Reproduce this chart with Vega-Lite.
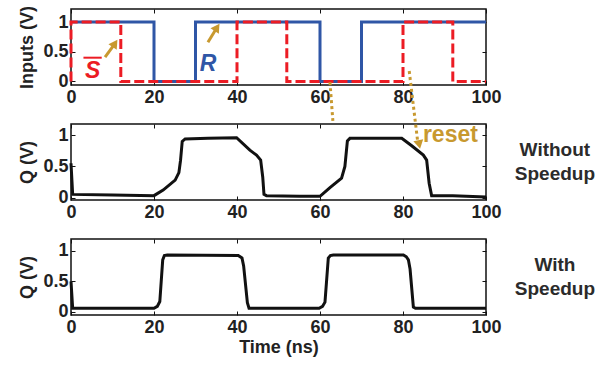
{
  "$schema": "https://vega.github.io/schema/vega-lite/v6.json",
  "padding": {"left": 18, "top": 4, "right": 5, "bottom": 5},
  "background": "white",
  "spacing": 39,
  "bounds": "flush",
  "config": {
    "font": "Liberation Sans",
    "view": {"stroke": "#111", "strokeWidth": 1.5},
    "axis": {
      "labelFont": "Liberation Sans", "labelFontSize": 18, "labelFontWeight": "bold", "labelColor": "#222",
      "titleFont": "Liberation Sans", "titleFontSize": 18, "titleFontWeight": "bold", "titleColor": "#222",
      "domain": false, "grid": false, "tickSize": -4, "tickColor": "#111", "tickWidth": 1,
      "labelPadding": 7, "labelFlush": false, "labelOverlap": false
    }
  },
  "datasets": {
    "inp": [
      {"s": "R", "t": 0, "v": 1}, {"s": "R", "t": 20, "v": 1}, {"s": "R", "t": 20, "v": 0}, {"s": "R", "t": 30, "v": 0},
      {"s": "R", "t": 30, "v": 1}, {"s": "R", "t": 60, "v": 1}, {"s": "R", "t": 60, "v": 0}, {"s": "R", "t": 70, "v": 0},
      {"s": "R", "t": 70, "v": 1}, {"s": "R", "t": 100, "v": 1},
      {"s": "S", "t": 0, "v": 0}, {"s": "S", "t": 0, "v": 1}, {"s": "S", "t": 12, "v": 1}, {"s": "S", "t": 12, "v": 0},
      {"s": "S", "t": 40, "v": 0}, {"s": "S", "t": 40, "v": 1}, {"s": "S", "t": 52, "v": 1}, {"s": "S", "t": 52, "v": 0},
      {"s": "S", "t": 80, "v": 0}, {"s": "S", "t": 80, "v": 1}, {"s": "S", "t": 92, "v": 1}, {"s": "S", "t": 92, "v": 0},
      {"s": "S", "t": 100, "v": 0}
    ],
    "q1": [
      {"t": 0, "v": 0.55}, {"t": 0.4, "v": 0.05}, {"t": 10, "v": 0.04}, {"t": 20, "v": 0.03},
      {"t": 22.2, "v": 0.12}, {"t": 25.1, "v": 0.28}, {"t": 26.0, "v": 0.4}, {"t": 26.4, "v": 0.6},
      {"t": 26.8, "v": 0.9}, {"t": 27.5, "v": 0.94}, {"t": 33, "v": 0.95}, {"t": 39.9, "v": 0.96},
      {"t": 43.1, "v": 0.76}, {"t": 44.7, "v": 0.68}, {"t": 45.7, "v": 0.6}, {"t": 46.2, "v": 0.33},
      {"t": 46.5, "v": 0.05}, {"t": 47.1, "v": 0.03}, {"t": 55, "v": 0.02}, {"t": 60, "v": 0.02},
      {"t": 62.4, "v": 0.16}, {"t": 65.2, "v": 0.31}, {"t": 66.0, "v": 0.5}, {"t": 66.6, "v": 0.91},
      {"t": 67.2, "v": 0.95}, {"t": 79.7, "v": 0.95}, {"t": 82.1, "v": 0.83}, {"t": 84.9, "v": 0.68},
      {"t": 85.7, "v": 0.6}, {"t": 86.3, "v": 0.23}, {"t": 86.9, "v": 0.03}, {"t": 92, "v": 0.03},
      {"t": 100, "v": 0.01}
    ],
    "q2": [
      {"t": 0, "v": 0.5}, {"t": 0.4, "v": 0.06}, {"t": 20, "v": 0.06}, {"t": 20.8, "v": 0.09},
      {"t": 21.4, "v": 0.17}, {"t": 22.1, "v": 0.85}, {"t": 22.5, "v": 0.92}, {"t": 23.2, "v": 0.93},
      {"t": 40.3, "v": 0.92}, {"t": 41.2, "v": 0.88}, {"t": 41.6, "v": 0.75}, {"t": 42.5, "v": 0.15},
      {"t": 42.9, "v": 0.06}, {"t": 59.8, "v": 0.06}, {"t": 60.6, "v": 0.09}, {"t": 61.2, "v": 0.16},
      {"t": 62.0, "v": 0.88}, {"t": 62.5, "v": 0.92}, {"t": 63.2, "v": 0.93}, {"t": 80.1, "v": 0.93},
      {"t": 80.8, "v": 0.9}, {"t": 81.3, "v": 0.85}, {"t": 81.7, "v": 0.7}, {"t": 82.5, "v": 0.08},
      {"t": 83.0, "v": 0.06}, {"t": 100, "v": 0.06}
    ],
    "arrows_top": [
      {"x": 8.2, "y": 0.41, "x2": 10.5, "y2": 0.63},
      {"x": 33.0, "y": 0.66, "x2": 35.1, "y2": 0.9}
    ],
    "heads_top": [
      {"x": 10.6, "y": 0.64},
      {"x": 35.2, "y": 0.91}
    ],
    "labels_top": [
      {"label": "S", "x": 5.2, "y": 0.17},
      {"label": "R", "x": 33.0, "y": 0.3}
    ],
    "overbar": [{"x": 3.0, "x2": 7.4, "y": 0.4}],
    "dots_mid": [
      {"x": 62.4, "y": 1.85, "x2": 63.1, "y2": 1.23},
      {"x": 81.5, "y": 2.03, "x2": 83.5, "y2": 0.92}
    ],
    "head_mid": [{"x": 83.9, "y": 0.85}],
    "reset": [{"label": "reset", "x": 84.8, "y": 0.89}],
    "side_mid": [{"label": "Without\nSpeedup", "x": 116.6, "y": 0.77}],
    "side_bot": [{"label": "With\nSpeedup", "x": 116.6, "y": 0.76}]
  },
  "vconcat": [
    {
      "width": 415, "height": 76,
      "resolve": {"axis": {"x": "independent", "y": "independent"}},
      "layer": [
        {
          "data": {"name": "inp"},
          "transform": [{"filter": "datum.s === 'R'"}],
          "mark": {"type": "line", "color": "#2F56A6", "strokeWidth": 3, "strokeJoin": "miter"},
          "encoding": {
            "x": {"field": "t", "type": "quantitative", "scale": {"domain": [0, 100], "nice": false},
                  "axis": {"values": [0, 20, 40, 60, 80, 100], "title": null, "format": "d"}},
            "y": {"field": "v", "type": "quantitative", "scale": {"domain": [-0.06, 1.22], "nice": false, "zero": false},
                  "axis": {"values": [0, 0.5, 1], "title": "Inputs (V)", "format": "~g", "titlePadding": 6}},
            "order": {"value": null}
          }
        },
        {
          "data": {"name": "inp"},
          "transform": [{"filter": "datum.s === 'S'"}],
          "mark": {"type": "line", "color": "#EC1C24", "strokeWidth": 3, "strokeDash": [10, 4], "strokeJoin": "miter"},
          "encoding": {
            "x": {"field": "t", "type": "quantitative", "axis": null},
            "y": {"field": "v", "type": "quantitative", "axis": null},
            "order": {"value": null}
          }
        },
        {
          "data": {"name": "inp"},
          "mark": {"type": "point", "opacity": 0},
          "encoding": {
            "x": {"field": "t", "type": "quantitative", "axis": {"orient": "top", "labels": false, "title": null, "values": [0, 20, 40, 60, 80, 100]}},
            "y": {"field": "v", "type": "quantitative", "axis": {"orient": "right", "labels": false, "title": null, "values": [0, 0.5, 1]}}
          }
        },
        {
          "data": {"name": "arrows_top"},
          "mark": {"type": "rule", "color": "#C8992F", "strokeWidth": 3},
          "encoding": {
            "x": {"field": "x", "type": "quantitative", "axis": null},
            "y": {"field": "y", "type": "quantitative", "axis": null},
            "x2": {"field": "x2"}, "y2": {"field": "y2"}
          }
        },
        {
          "data": {"name": "heads_top"},
          "mark": {"type": "point", "shape": "triangle-up", "filled": true, "color": "#C8992F", "opacity": 1, "size": 100, "angle": 34},
          "encoding": {
            "x": {"field": "x", "type": "quantitative", "axis": null},
            "y": {"field": "y", "type": "quantitative", "axis": null}
          }
        },
        {
          "data": {"name": "labels_top"},
          "mark": {"type": "text", "fontSize": 23, "fontWeight": "bold", "fontStyle": "italic", "font": "Liberation Sans", "align": "center", "baseline": "middle"},
          "encoding": {
            "x": {"field": "x", "type": "quantitative", "axis": null},
            "y": {"field": "y", "type": "quantitative", "axis": null},
            "text": {"field": "label"},
            "color": {"field": "label", "type": "nominal", "scale": {"domain": ["R", "S"], "range": ["#2F56A6", "#EC1C24"]}, "legend": null}
          }
        },
        {
          "data": {"name": "overbar"},
          "mark": {"type": "rule", "color": "#EC1C24", "strokeWidth": 2},
          "encoding": {
            "x": {"field": "x", "type": "quantitative", "axis": null},
            "x2": {"field": "x2"},
            "y": {"field": "y", "type": "quantitative", "axis": null}
          }
        }
      ]
    },
    {
      "width": 415, "height": 76,
      "resolve": {"axis": {"x": "independent", "y": "independent"}},
      "layer": [
        {
          "data": {"name": "q1"},
          "mark": {"type": "line", "color": "#111", "strokeWidth": 3},
          "encoding": {
            "x": {"field": "t", "type": "quantitative", "scale": {"domain": [0, 100], "nice": false},
                  "axis": {"values": [0, 20, 40, 60, 80, 100], "title": null, "format": "d"}},
            "y": {"field": "v", "type": "quantitative", "scale": {"domain": [-0.04, 1.18], "nice": false, "zero": false},
                  "axis": {"values": [0, 0.5, 1], "title": "Q (V)", "format": "~g", "titlePadding": 6}},
            "order": {"value": null}
          }
        },
        {
          "data": {"name": "q1"},
          "mark": {"type": "point", "opacity": 0},
          "encoding": {
            "x": {"field": "t", "type": "quantitative", "axis": {"orient": "top", "labels": false, "title": null, "values": [0, 20, 40, 60, 80, 100]}},
            "y": {"field": "v", "type": "quantitative", "axis": {"orient": "right", "labels": false, "title": null, "values": [0, 0.5, 1]}}
          }
        },
        {
          "data": {"name": "dots_mid"},
          "mark": {"type": "rule", "color": "#C8992F", "strokeWidth": 3, "strokeDash": [3, 3]},
          "encoding": {
            "x": {"field": "x", "type": "quantitative", "axis": null},
            "y": {"field": "y", "type": "quantitative", "axis": null},
            "x2": {"field": "x2"}, "y2": {"field": "y2"}
          }
        },
        {
          "data": {"name": "head_mid"},
          "mark": {"type": "point", "shape": "triangle-up", "filled": true, "color": "#C8992F", "opacity": 1, "size": 100, "angle": 168},
          "encoding": {
            "x": {"field": "x", "type": "quantitative", "axis": null},
            "y": {"field": "y", "type": "quantitative", "axis": null}
          }
        },
        {
          "data": {"name": "reset"},
          "mark": {"type": "text", "fontSize": 23, "fontWeight": "bold", "font": "Liberation Sans", "align": "left", "baseline": "alphabetic", "color": "#C8992F"},
          "encoding": {
            "x": {"field": "x", "type": "quantitative", "axis": null},
            "y": {"field": "y", "type": "quantitative", "axis": null},
            "text": {"field": "label"}
          }
        },
        {
          "data": {"name": "side_mid"},
          "mark": {"type": "text", "fontSize": 19, "fontWeight": "bold", "font": "Liberation Sans", "align": "center", "baseline": "middle", "color": "#2b2b2b", "lineBreak": "\n", "lineHeight": 24},
          "encoding": {
            "x": {"field": "x", "type": "quantitative", "axis": null},
            "y": {"field": "y", "type": "quantitative", "axis": null},
            "text": {"field": "label"}
          }
        }
      ]
    },
    {
      "width": 415, "height": 76,
      "resolve": {"axis": {"x": "independent", "y": "independent"}},
      "layer": [
        {
          "data": {"name": "q2"},
          "mark": {"type": "line", "color": "#111", "strokeWidth": 3},
          "encoding": {
            "x": {"field": "t", "type": "quantitative", "scale": {"domain": [0, 100], "nice": false},
                  "axis": {"values": [0, 20, 40, 60, 80, 100], "title": "Time (ns)", "format": "d", "titlePadding": 2}},
            "y": {"field": "v", "type": "quantitative", "scale": {"domain": [-0.05, 1.19], "nice": false, "zero": false},
                  "axis": {"values": [0, 0.5, 1], "title": "Q (V)", "format": "~g", "titlePadding": 6}},
            "order": {"value": null}
          }
        },
        {
          "data": {"name": "q2"},
          "mark": {"type": "point", "opacity": 0},
          "encoding": {
            "x": {"field": "t", "type": "quantitative", "axis": {"orient": "top", "labels": false, "title": null, "values": [0, 20, 40, 60, 80, 100]}},
            "y": {"field": "v", "type": "quantitative", "axis": {"orient": "right", "labels": false, "title": null, "values": [0, 0.5, 1]}}
          }
        },
        {
          "data": {"name": "side_bot"},
          "mark": {"type": "text", "fontSize": 19, "fontWeight": "bold", "font": "Liberation Sans", "align": "center", "baseline": "middle", "color": "#2b2b2b", "lineBreak": "\n", "lineHeight": 24},
          "encoding": {
            "x": {"field": "x", "type": "quantitative", "axis": null},
            "y": {"field": "y", "type": "quantitative", "axis": null},
            "text": {"field": "label"}
          }
        }
      ]
    }
  ]
}
